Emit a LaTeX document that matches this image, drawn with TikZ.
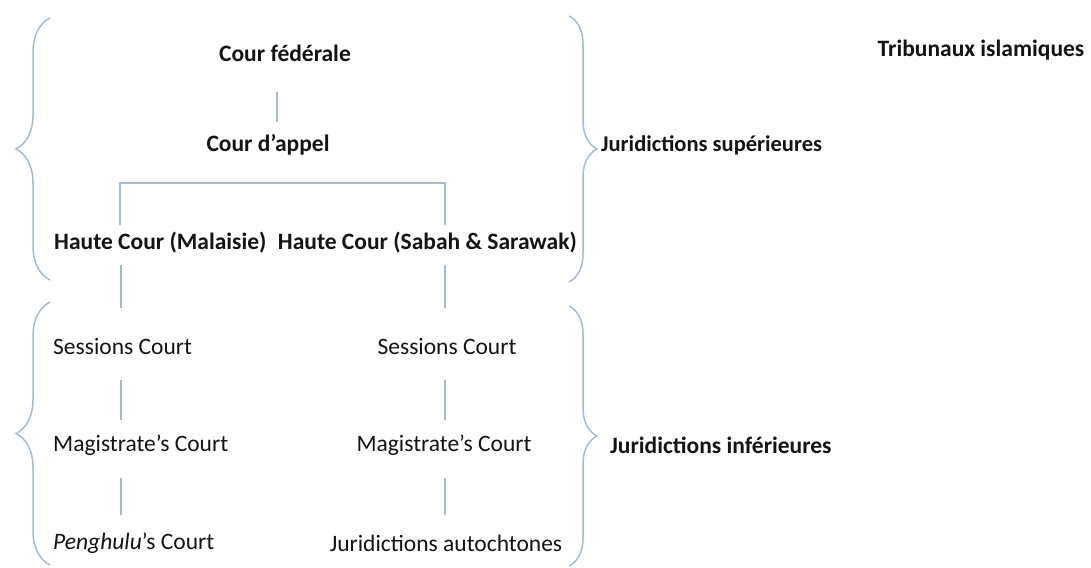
\documentclass[tikz,border=0pt]{standalone}
\usepackage{fontspec}
\setmainfont{Carlito}
\usetikzlibrary{decorations.pathreplacing,calc}
\definecolor{linec}{HTML}{A8BBCE}
\begin{document}
\begin{tikzpicture}[x=1pt,y=-1pt,
  up/.style={font=\fontsize{23.5}{28}\selectfont\bfseries, inner sep=0pt, text=black!92},
  low/.style={font=\fontsize{23.5}{28}\selectfont, inner sep=0pt, text=black!92},
  conn/.style={draw=linec, line width=1.5pt},
  brc/.style={draw=linec, line width=1.5pt, decorate, decoration={brace, amplitude=#1}},
  brc/.default=34pt]
\useasboundingbox[fill=white] (0,0) rectangle (1091,567);
% nodes
\node[up] (fed) at (285,53) {Cour fédérale};
\node[up] (app) at (268,145) {Cour d’appel};
\node[up, anchor=west] (hcm) at (54,243) {Haute Cour (Malaisie)};
\node[up, anchor=east] (hcs) at (577,243) {Haute Cour (Sabah \& Sarawak)};
\node[low, anchor=west] (sc1) at (53,346) {Sessions Court};
\node[low] (sc2) at (447,346) {Sessions Court};
\node[low, anchor=west] (mc1) at (53,445) {Magistrate’s Court};
\node[low] (mc2) at (444,445) {Magistrate’s Court};
\node[low, anchor=west] (pc) at (53,543) {\textit{Penghulu}’s Court};
\node[low] (ja) at (446,543) {Juridictions autochtones};
\node[up, anchor=west, font=\fontsize{22.5}{27}\selectfont\bfseries] (sup) at (601,145) {Juridictions supérieures};
\node[up, anchor=west] (inf) at (610,445) {Juridictions inférieures};
\node[up] (isl) at (981,50) {Tribunaux islamiques};
% connector columns
\coordinate (cA) at (277,0);
\coordinate (cL) at (121,0);
\coordinate (cR) at (445,0);
\coordinate (bl) at (120,183);
\coordinate (br) at (445,183);
\draw[conn, shorten <=39pt, shorten >=23pt] (fed -| cA) -- (app -| cA);
\draw[conn] ($(hcm -| bl)+(0,-18)$) -- (bl) -- (br) -- ($(hcs -| br)+(0,-18)$);
\draw[conn, shorten <=22pt, shorten >=38pt] (hcm -| cL) -- (sc1 -| cL);
\draw[conn, shorten <=22pt, shorten >=38pt] (hcs -| cR) -- (sc2 -| cR);
\draw[conn, shorten <=34pt, shorten >=25pt] (sc1 -| cL) -- (mc1 -| cL);
\draw[conn, shorten <=34pt, shorten >=25pt] (sc2 -| cR) -- (mc2 -| cR);
\draw[conn, shorten <=33pt, shorten >=28pt] (mc1 -| cL) -- (pc -| cL);
\draw[conn, shorten <=33pt, shorten >=28pt] (mc2 -| cR) -- (ja -| cR);
% braces
\coordinate (lu1) at (50,280); \coordinate (lu2) at (50,18);
\coordinate (ll1) at (50,565); \coordinate (ll2) at (50,302);
\coordinate (ru1) at (569,16); \coordinate (ru2) at (569,282);
\coordinate (rl1) at (569,306); \coordinate (rl2) at (569,566);
\draw[brc] (lu1) -- (lu2);
\draw[brc] (ll1) -- (ll2);
\draw[brc=28pt] (ru1) -- (ru2);
\draw[brc=28pt] (rl1) -- (rl2);
\end{tikzpicture}
\end{document}
